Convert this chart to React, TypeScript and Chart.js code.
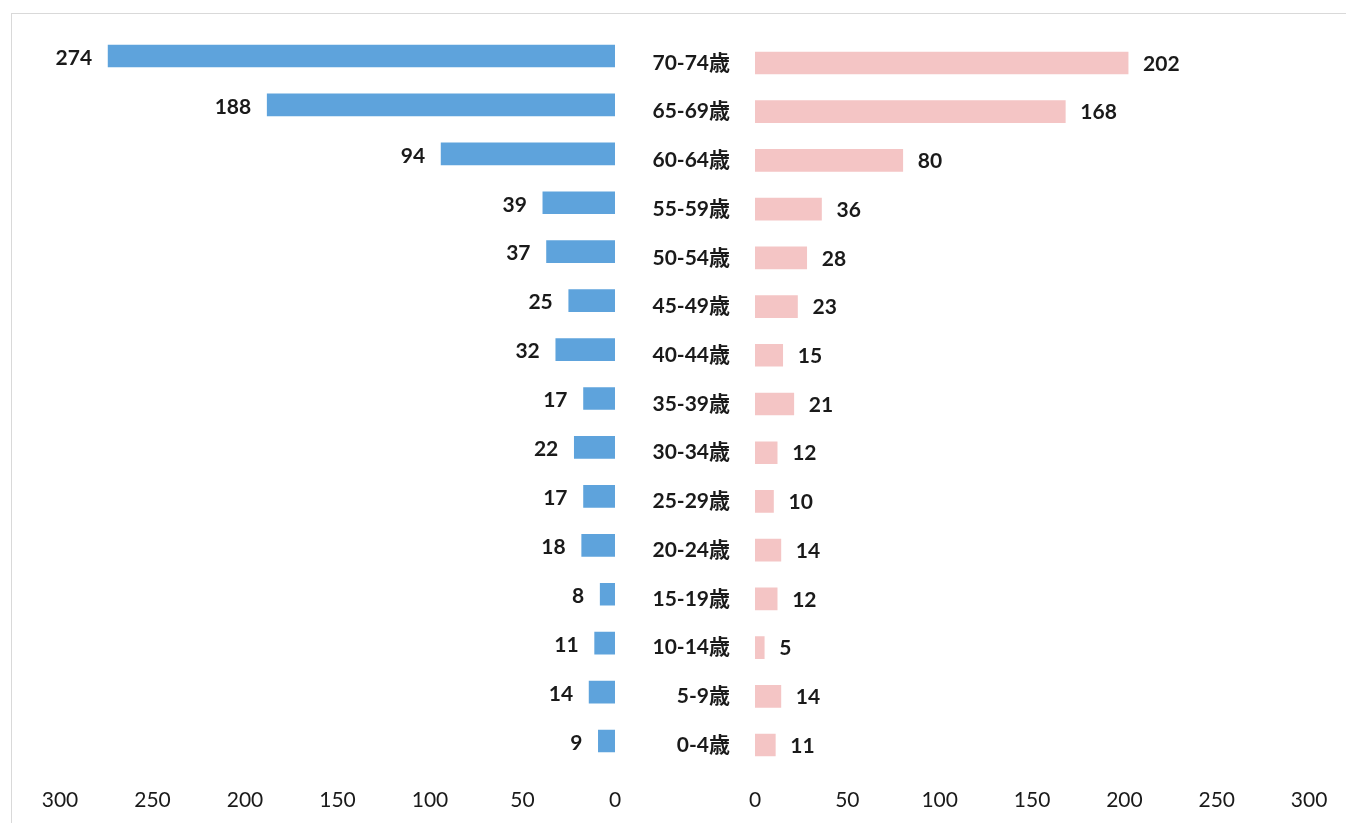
import React, { useEffect, useRef } from "react";
import { Chart, registerables } from "chart.js";

Chart.register(...registerables);

const categories = ["70-74歳", "65-69歳", "60-64歳", "55-59歳", "50-54歳", "45-49歳", "40-44歳", "35-39歳", "30-34歳", "25-29歳", "20-24歳", "15-19歳", "10-14歳", "5-9歳", "0-4歳"];
const leftValues = [274, 188, 94, 39, 37, 25, 32, 17, 22, 17, 18, 8, 11, 14, 9];
const rightValues = [202, 168, 80, 36, 28, 23, 15, 21, 12, 10, 14, 12, 5, 14, 11];
const axisMax = 300;
const axisStep = 50;

const FONT = 'Lato, "Noto Sans CJK JP", sans-serif';
const H = 823;

const valueLabels = (side: "left" | "right") => ({
  id: "valueLabels" + side,
  afterDatasetsDraw(chart: any) {
    const ctx = chart.ctx;
    const meta = chart.getDatasetMeta(0);
    const data = chart.data.datasets[0].data as number[];
    ctx.save();
    ctx.font = "bold 21px " + FONT;
    ctx.fillStyle = "#1a1a1a";
    ctx.textBaseline = "middle";
    meta.data.forEach((bar: any, i: number) => {
      if (side === "left") {
        ctx.textAlign = "right";
        ctx.fillText(String(data[i]), bar.x - 16, bar.y + 2);
      } else {
        ctx.textAlign = "left";
        ctx.fillText(String(data[i]), bar.x + 15, bar.y + 1);
      }
    });
    ctx.restore();
  },
});

function SideChart(props: { side: "left" | "right"; left: number; width: number }) {
  const ref = useRef<HTMLCanvasElement>(null);
  useEffect(() => {
    const isLeft = props.side === "left";
    const top = isLeft ? 31.5 : 38.6;
    const bottom = isLeft ? 765.5 : 769.4;
    const chart = new Chart(ref.current!, {
      type: "bar",
      data: {
        labels: categories,
        datasets: [
          {
            data: isLeft ? leftValues : rightValues,
            backgroundColor: isLeft ? "#5ea3dc" : "#f4c5c5",
            barThickness: 22,
          },
        ],
      },
      options: {
        indexAxis: "y",
        responsive: false,
        animation: false,
        devicePixelRatio: 1,
        layout: {
          padding: isLeft
            ? { top, bottom: 0, left: 60, right: 45 }
            : { top, bottom: 0, left: 0, right: 34 },
        },
        plugins: { legend: { display: false }, tooltip: { enabled: false }, title: { display: false } },
        scales: {
          x: {
            min: 0,
            max: axisMax,
            reverse: isLeft,
            grid: { display: false, drawTicks: false },
            border: { display: false },
            ticks: {
              stepSize: axisStep,
              padding: H - bottom - 35,
              color: "#1a1a1a",
              font: { family: FONT, size: 21 },
              maxRotation: 0,
            },
            afterFit: (s: any) => {
              s.height = H - bottom;
            },
          },
          y: {
            display: !isLeft,
            grid: { display: false, drawTicks: false },
            border: { display: false },
            ticks: {
              padding: 25,
              color: "#1a1a1a",
              font: { family: FONT, size: 21, weight: "bold" },
            },
            afterFit: (s: any) => {
              s.width = isLeft ? 0 : 115;
            },
          },
        },
      },
      plugins: [valueLabels(props.side)],
    } as any);
    return () => chart.destroy();
  }, []);
  return (
    <canvas
      ref={ref}
      width={props.width}
      height={H}
      style={{ position: "absolute", left: props.left, top: 0, width: props.width, height: H }}
    />
  );
}

export default function App() {
  return (
    <div style={{ position: "absolute", left: 0, top: 0, width: 1346, height: H, background: "#fff", overflow: "hidden" }}>
      <div
        style={{
          position: "absolute",
          left: 11,
          top: 13,
          width: 1346,
          height: 900,
          border: "1px solid #d9d9d9",
          boxSizing: "border-box",
        }}
      />
      <SideChart side="left" left={0} width={660} />
      <SideChart side="right" left={640} width={706} />
    </div>
  );
}
